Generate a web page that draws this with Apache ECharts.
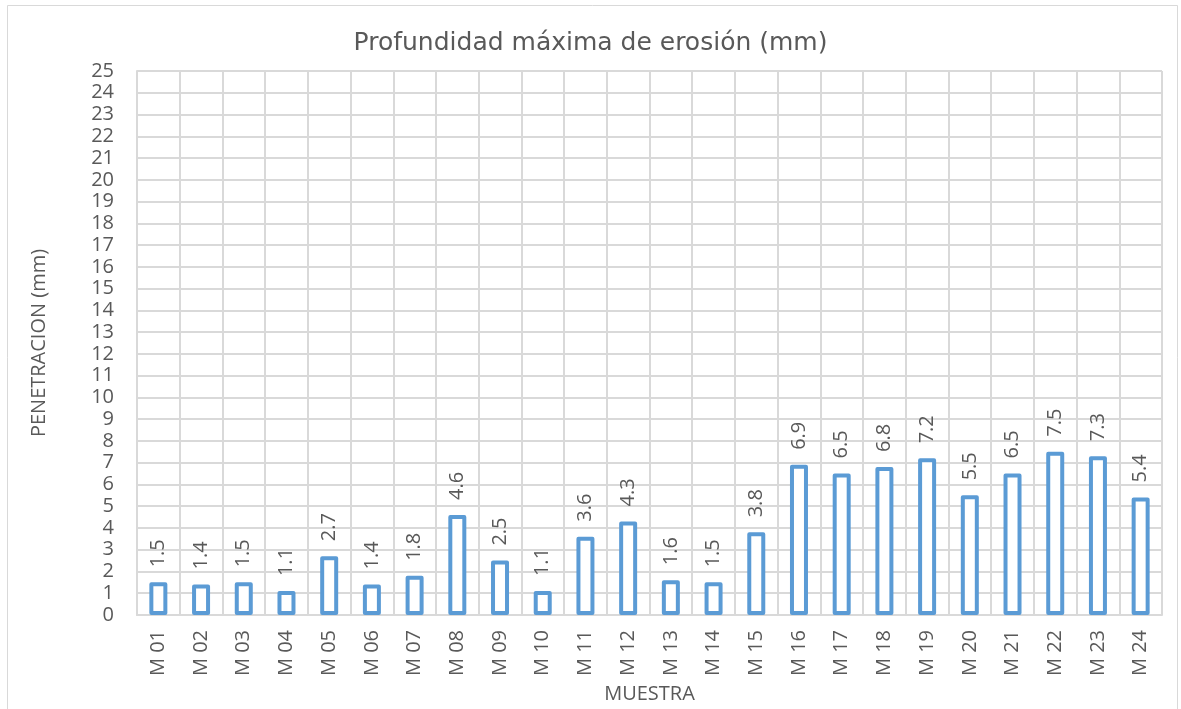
<!DOCTYPE html>
<html>
<head>
<meta charset="utf-8">
<script src="https://cdn.jsdelivr.net/npm/echarts@6/dist/echarts.min.js"></script>
<style>
  html, body { margin: 0; padding: 0; background: #fff; }
  #chart { width: 1181px; height: 709px; }
</style>
</head>
<body>
<div id="chart"></div>
<script>
const muestras = ['M 01', 'M 02', 'M 03', 'M 04', 'M 05', 'M 06', 'M 07', 'M 08', 'M 09', 'M 10', 'M 11', 'M 12',
  'M 13', 'M 14', 'M 15', 'M 16', 'M 17', 'M 18', 'M 19', 'M 20', 'M 21', 'M 22', 'M 23', 'M 24'];
const penetracion = [1.5, 1.4, 1.5, 1.1, 2.7, 1.4, 1.8, 4.6, 2.5, 1.1, 3.6, 4.3,
  1.6, 1.5, 3.8, 6.9, 6.5, 6.8, 7.2, 5.5, 6.5, 7.5, 7.3, 5.4];

const gris = '#595959';
const rejilla = '#d9d9d9';
const fuente = 'Open Sans';

const chart = echarts.init(document.getElementById('chart'));

const option = {
  backgroundColor: '#fff',
  animation: false,
  textStyle: { fontFamily: fuente },
  title: {
    text: 'Profundidad máxima de erosión (mm)',
    left: 'center',
    top: 26,
    textStyle: { fontSize: 25, fontWeight: 'normal', color: gris, fontFamily: 'DejaVu Sans' },
  },
  graphic: [{
    type: 'rect',
    shape: { x: 7.5, y: 5.5, width: 1170, height: 720 },
    style: { fill: 'none', stroke: rejilla, lineWidth: 1 },
    silent: true,
  }],
  grid: {
    left: 137,
    right: 19,
    top: 71,
    bottom: 94,
    containLabel: false,
    outerBoundsMode: 'none',
  },
  xAxis: {
    type: 'category',
    data: muestras,
    name: 'MUESTRA',
    nameLocation: 'middle',
    nameGap: 68,
    nameTextStyle: { color: gris, fontSize: 20 },
    axisLine: { lineStyle: { color: rejilla, width: 2 } },
    axisTick: { show: false },
    axisLabel: {
      rotate: 90,
      interval: 0,
      color: gris,
      fontSize: 20,
      margin: 15,
    },
    splitLine: { show: true, interval: 0, lineStyle: { color: rejilla, width: 2 } },
  },
  yAxis: {
    type: 'value',
    min: 0,
    max: 25,
    interval: 1,
    name: 'PENETRACION (mm)',
    nameLocation: 'middle',
    nameGap: 88,
    nameTextStyle: { color: gris, fontSize: 20 },
    axisLine: { show: true, lineStyle: { color: rejilla, width: 2 } },
    axisTick: { show: false },
    axisLabel: { color: gris, fontSize: 20, margin: 23 },
    splitLine: { lineStyle: { color: rejilla, width: 2 } },
  },
  series: [{
    type: 'bar',
    data: penetracion,
    barWidth: 18,
    itemStyle: {
      color: '#fff',
      borderColor: '#5b9bd5',
      borderWidth: 4,
      borderJoin: 'round',
    },
    label: {
      show: true,
      position: 'top',
      rotate: 90,
      align: 'left',
      verticalAlign: 'middle',
      distance: 15,
      color: gris,
      fontSize: 20,
    },
  }],
};

chart.setOption(option);
</script>
</body>
</html>
